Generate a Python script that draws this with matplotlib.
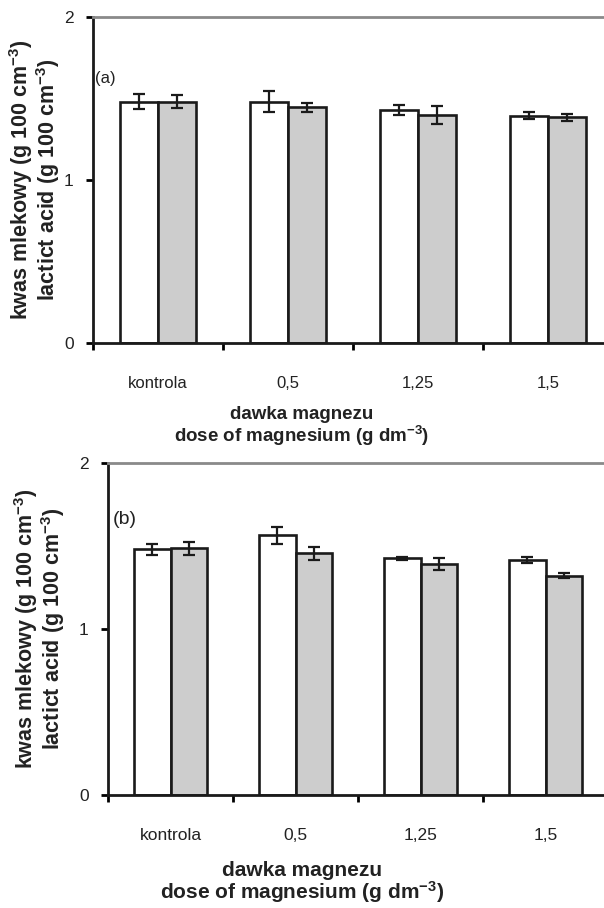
import matplotlib.pyplot as plt
import numpy as np

plt.rcParams['font.family'] = ['Liberation Sans', 'DejaVu Sans']
plt.rcParams['mathtext.default'] = 'regular'

# dose categories
doses = ["kontrola", "0,5", "1,25", "1,5"]

# panel (a): lactic acid, white / grey series and error bars
a_white = [1.48, 1.48, 1.43, 1.395]
a_white_err = [0.045, 0.065, 0.03, 0.02]
a_grey = [1.48, 1.445, 1.40, 1.385]
a_grey_err = [0.04, 0.027, 0.055, 0.02]

# panel (b)
b_white = [1.48, 1.565, 1.425, 1.415]
b_white_err = [0.035, 0.05, 0.008, 0.02]
b_grey = [1.485, 1.455, 1.39, 1.32]
b_grey_err = [0.04, 0.04, 0.035, 0.015]

ylab = "kwas mlekowy (g 100 cm$^{-3}$)\nlactict acid (g 100 cm$^{-3}$)"
xlab = "dawka magnezu\ndose of magnesium (g dm$^{-3}$)"

fig = plt.figure(figsize=(6.04, 9.08), dpi=100)


def panel(rect, white, werr, grey, gerr, tag, tagpos, ylab_x, xlab_y,
          tick_fs, xlab_fs, tag_fs):
    ax = fig.add_axes(rect)
    x = np.arange(len(doses))
    w = 0.29
    ekw = dict(ecolor="#1a1a1a", elinewidth=1.6, capsize=4.5, capthick=1.6)
    ax.bar(x - w / 2, white, w, yerr=werr, color="white", edgecolor="#1a1a1a",
           linewidth=1.9, error_kw=ekw, zorder=2)
    ax.bar(x + w / 2, grey, w, yerr=gerr, color="#cdcdcd", edgecolor="#1a1a1a",
           linewidth=1.9, error_kw=ekw, zorder=2)
    ax.set_xlim(-0.5, 3.5)
    ax.set_ylim(0, 2)
    ax.set_yticks([0, 1, 2])
    ax.set_xticks(np.arange(-0.5, 3.5, 1))
    ax.set_xticklabels([])
    ax.set_xticks(x, minor=True)
    ax.set_xticklabels(doses, minor=True, fontsize=tick_fs)
    ax.tick_params(axis="x", which="minor", length=0, pad=24,
                   labelcolor="#222222")
    ax.tick_params(axis="x", which="major", length=5, width=2, direction="out")
    ax.tick_params(axis="y", length=5, width=2, direction="out", labelsize=12.5,
                   pad=9, labelcolor="#222222")
    for s in ["left", "bottom"]:
        ax.spines[s].set_linewidth(2)
        ax.spines[s].set_color("#1a1a1a")
    ax.spines["right"].set_visible(False)
    ax.spines["top"].set_color("#8a8a8a")
    ax.spines["top"].set_linewidth(2)
    ax.text(tagpos[0], tagpos[1], tag, transform=fig.transFigure,
            fontsize=tag_fs, va="center", ha="left", color="#222222")
    cy = rect[1] + rect[3] / 2
    fig.text(ylab_x, cy, ylab, rotation=90, ha="center", va="center",
             fontsize=15.5, fontweight="bold", linespacing=0.95,
             color="#222222")
    fig.text(0.5, xlab_y, xlab, ha="center", va="center", fontsize=xlab_fs,
             fontweight="bold", linespacing=1.0, color="#222222")
    return ax


panel([0.154, 0.6222, 0.861, 0.3591], a_white, a_white_err, a_grey, a_grey_err,
      "(a)", (0.158, 1 - 78 / 908), 0.057, 1 - 427 / 908, 12, 13.5, 12)
panel([0.1788, 0.1244, 0.828, 0.3657], b_white, b_white_err, b_grey, b_grey_err,
      "(b)", (0.186, 1 - 520 / 908), 0.065, 1 - 883 / 908, 12.5, 15, 14)

fig.savefig("out.png", dpi=100)
